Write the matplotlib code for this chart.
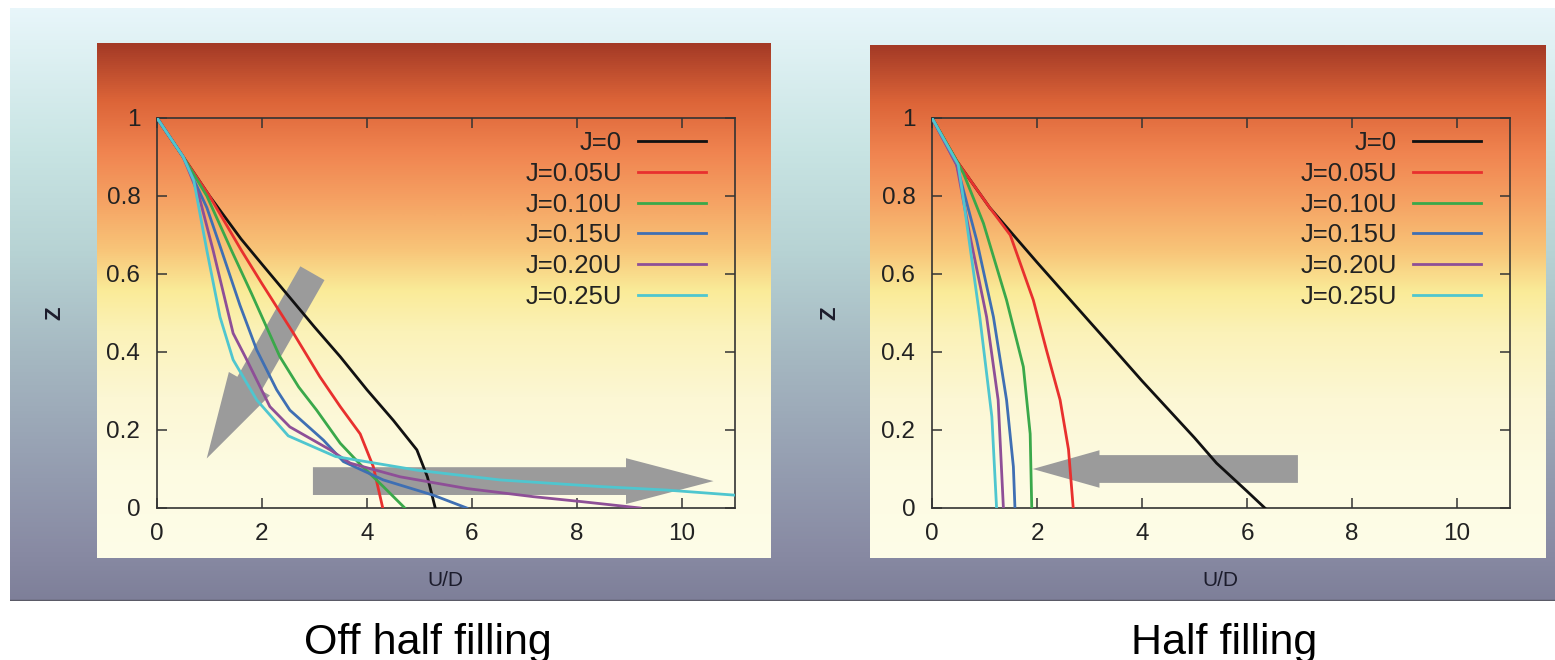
import numpy as np
import matplotlib
matplotlib.use("Agg")
import matplotlib.pyplot as plt
from matplotlib.colors import LinearSegmentedColormap
from matplotlib.patches import FancyArrowPatch, ArrowStyle

plt.rcParams['font.family'] = ['Liberation Sans', 'DejaVu Sans']

# ---------------- data ----------------
labels = ["J=0", "J=0.05U", "J=0.10U", "J=0.15U", "J=0.20U", "J=0.25U"]
colors = ["#111111", "#e8302e", "#3aa84a", "#3f6fb3", "#8e4f97", "#4fc6cf"]

# Off half filling (left)
ud_L_J000 = [0, 0.5, 1.0, 1.6, 2.0, 3.0, 3.49, 4.0, 4.5, 4.95, 5.15, 5.3]
z_L_J000 = [1, 0.9, 0.8, 0.69, 0.625, 0.464, 0.388, 0.303, 0.225, 0.149, 0.08, 0.0]
ud_L_J005 = [0, 0.5, 1.0, 1.61, 2.0, 2.6, 3.1, 3.49, 3.87, 4.12, 4.3]
z_L_J005 = [1, 0.9, 0.8, 0.66, 0.575, 0.448, 0.337, 0.26, 0.19, 0.106, 0.0]
ud_L_J010 = [0, 0.5, 0.95, 1.42, 1.8, 2.34, 2.7, 3.04, 3.49, 3.87, 4.31, 4.72]
z_L_J010 = [1, 0.9, 0.8, 0.66, 0.55, 0.388, 0.31, 0.251, 0.166, 0.112, 0.055, 0.0]
ud_L_J015 = [0, 0.5, 0.95, 1.23, 1.58, 1.9, 2.28, 2.53, 3.17, 3.55, 4.31, 5.26, 5.9]
z_L_J015 = [1, 0.9, 0.77, 0.66, 0.52, 0.405, 0.303, 0.251, 0.174, 0.119, 0.072, 0.033, 0.0]
ud_L_J020 = [0, 0.5, 0.8, 1.07, 1.45, 1.68, 2.15, 2.53, 3.3, 3.68, 4.63, 5.9, 7.17, 8.11, 9.2]
z_L_J020 = [1, 0.9, 0.8, 0.66, 0.448, 0.388, 0.26, 0.208, 0.149, 0.115, 0.08, 0.05, 0.029, 0.016, 0.0]
ud_L_J025 = [0, 0.5, 0.7, 0.95, 1.2, 1.45, 1.9, 2.5, 3.4, 4.95, 6.53, 8.44, 9.71, 11.0]
z_L_J025 = [1, 0.9, 0.84, 0.66, 0.49, 0.38, 0.277, 0.185, 0.132, 0.097, 0.072, 0.055, 0.046, 0.033]

# Half filling (right)
ud_R_J000 = [0, 0.47, 1.1, 2.0, 3.0, 3.39, 4.0, 5.0, 5.42, 6.0, 6.34]
z_R_J000 = [1, 0.89, 0.77, 0.63, 0.478, 0.419, 0.326, 0.18, 0.115, 0.043, 0.0]
ud_R_J005 = [0, 0.47, 1.1, 1.49, 1.93, 2.18, 2.44, 2.6, 2.69]
z_R_J005 = [1, 0.89, 0.77, 0.70, 0.533, 0.405, 0.277, 0.15, 0.0]
ud_R_J010 = [0, 0.47, 0.6, 0.98, 1.42, 1.74, 1.87, 1.9]
z_R_J010 = [1, 0.89, 0.858, 0.73, 0.533, 0.362, 0.19, 0.0]
ud_R_J015 = [0, 0.47, 0.85, 1.17, 1.42, 1.55, 1.58]
z_R_J015 = [1, 0.88, 0.687, 0.49, 0.277, 0.106, 0.0]
ud_R_J020 = [0, 0.47, 0.72, 1.04, 1.26, 1.36]
z_R_J020 = [1, 0.88, 0.70, 0.49, 0.277, 0.0]
ud_R_J025 = [0, 0.5, 0.6, 0.91, 1.14, 1.23]
z_R_J025 = [1, 0.88, 0.79, 0.49, 0.234, 0.0]

series_L = [(ud_L_J000, z_L_J000), (ud_L_J005, z_L_J005), (ud_L_J010, z_L_J010),
            (ud_L_J015, z_L_J015), (ud_L_J020, z_L_J020), (ud_L_J025, z_L_J025)]
series_R = [(ud_R_J000, z_R_J000), (ud_R_J005, z_R_J005), (ud_R_J010, z_R_J010),
            (ud_R_J015, z_R_J015), (ud_R_J020, z_R_J020), (ud_R_J025, z_R_J025)]

x_ticks = [0, 2, 4, 6, 8, 10]
x_ticklabels = ["0", "2", "4", "6", "8", "10"]
y_ticks = [0, 0.2, 0.4, 0.6, 0.8, 1.0]
y_ticklabels = ["0", "0.2", "0.4", "0.6", "0.8", "1"]
captions = ["Off half filling", "Half filling"]
caption_x_px = [427.5, 1224]

# arrow annotations (tail -> tip in data coords)
arrows_L = [((2.96, 0.602), (0.947, 0.127), 62, 34, 20),
            ((2.97, 0.069), (10.6, 0.069), 63, 33, 20)]
arrows_R = [((6.97, 0.10), (1.92, 0.10), 48, 27, 20)]

# ---------------- figure ----------------
W, H = 1555, 660
fig = plt.figure(figsize=(W / 100, H / 100), dpi=100, facecolor="white")


def box(x0, y0, x1, y1):
    return [x0 / W, 1 - y1 / H, (x1 - x0) / W, (y1 - y0) / H]


outer_cmap = LinearSegmentedColormap.from_list("outer", [
    (0.0, "#e8f6fa"), (0.24, "#c8e4e3"), (0.41, "#b7d3d4"), (0.58, "#a6b9c2"),
    (0.75, "#97a1b3"), (0.92, "#888aa3"), (1.0, "#7e7f99")])
panel_cmap = LinearSegmentedColormap.from_list("panel", [
    (0.0, "#a43a26"), (0.11, "#dc6438"), (0.21, "#f08450"), (0.30, "#f5a062"),
    (0.40, "#f8c478"), (0.48, "#faeb98"), (0.56, "#fbf2b8"), (0.69, "#fcf7d4"),
    (0.83, "#fdfbe2"), (1.0, "#fefde8")])

grad = np.linspace(0, 1, 512).reshape(-1, 1)

bg = fig.add_axes(box(10, 8, 1555, 601))
bg.imshow(grad, aspect="auto", cmap=outer_cmap, extent=[0, 1, 0, 1], origin="upper")
bg.axhline(0.0, color="#5a5a66", lw=2.5)
bg.set_axis_off()

panels = [box(97, 43, 771, 558), box(870, 45, 1545, 558)]
plot_boxes = [box(157, 118, 734.5, 508), box(932, 118, 1509.5, 508)]
all_series = [series_L, series_R]
all_arrows = [arrows_L, arrows_R]

for i in range(2):
    pa = fig.add_axes(panels[i])
    pa.imshow(grad, aspect="auto", cmap=panel_cmap, extent=[0, 1, 0, 1], origin="upper")
    pa.set_axis_off()

    ax = fig.add_axes(plot_boxes[i])
    ax.set_facecolor("none")
    for (ud, z), c, lab in zip(all_series[i], colors, labels):
        ax.plot(ud, z, color=c, lw=2.0, label=lab, zorder=3)
    for tail, tip, hl, hw, tw in all_arrows[i]:
        arr = FancyArrowPatch(tail, tip, arrowstyle=ArrowStyle.Simple(
            head_length=hl, head_width=hw, tail_width=tw),
            mutation_scale=1, shrinkA=0, shrinkB=0, color="#9b9b9b",
            lw=0, zorder=2)
        ax.add_patch(arr)
    ax.set_xlim(0, 11)
    ax.set_ylim(0, 1)
    ax.set_xticks(x_ticks)
    ax.set_xticklabels(x_ticklabels)
    ax.set_yticks(y_ticks)
    ax.set_yticklabels(y_ticklabels)
    ax.tick_params(direction="in", length=7, width=1.1, top=True, right=True,
                   labelsize=17.5, colors="#333333", labelcolor="#222222")
    ax.tick_params(axis="x", pad=11)
    ax.tick_params(axis="y", pad=12)
    for s in ax.spines.values():
        s.set_color("#333333")
        s.set_linewidth(1.2)
    ax.set_xlabel("U/D", fontsize=15, color="#1c1c2c")
    ax.xaxis.set_label_coords(0.5, -(580 - 508) / 390)
    ax.xaxis.label.set_va("center")
    ax.set_ylabel("Z", fontsize=16, color="#1c1c2c", fontweight="bold")
    ax.yaxis.set_label_coords(-(157 - 55) / 577.5, 0.5)
    ax.yaxis.label.set_va("center")
    leg = ax.legend(loc="upper right", bbox_to_anchor=(0.9507, 0.966),
                    frameon=False, markerfirst=False, fontsize=18.5,
                    handlelength=2.65, handletextpad=0.62, labelspacing=0.26,
                    borderpad=0, borderaxespad=0)
    for t in leg.get_texts():
        t.set_color("#222222")

    fig.text(caption_x_px[i] / W, 1 - 654 / H, captions[i], fontsize=31,
             ha="center", va="baseline", color="black")

fig.savefig("out.png", dpi=100, facecolor="white")
